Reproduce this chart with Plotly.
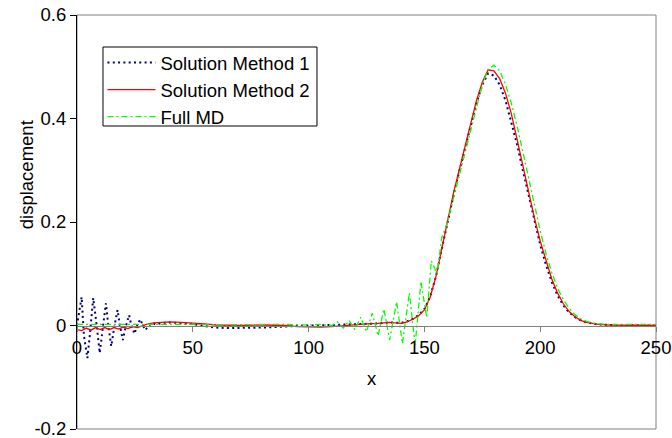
import plotly.graph_objects as go

# ---------------- data ----------------
x_m1 = [0, 1, 2, 3, 4.5, 5.5, 7, 8.5, 9.8, 11, 12.5, 13.5, 14.8, 16, 17.5, 18.5,
        19.8, 21, 22.5, 23.5, 24.8, 26, 27.3, 28.5, 29.5, 31, 32.5, 34, 36, 40,
        45, 50, 55, 60, 65, 70, 75, 80, 85, 90, 95, 100, 110, 120, 125, 130,
        135, 140, 142.5, 145, 147.5, 150, 152.5, 155, 157.5, 160, 162.5, 165,
        167.5, 170, 172.5, 175, 177.5, 180, 182.5, 185, 187.5, 190, 192.5, 195,
        197.5, 200, 202.5, 205, 207.5, 210, 212.5, 215, 217.5, 220, 222.5, 225,
        230, 240, 250]
y_m1 = [0, 0.03, 0.055, -0.02, -0.063, -0.02, 0.053, 0.0, -0.053, -0.01, 0.043,
        0.0, -0.04, -0.005, 0.03, 0.0, -0.028, -0.003, 0.02, 0.0, -0.016, 0.0,
        0.012, 0.0, -0.009, 0.0, 0.005, 0.002, 0.004, 0.006, 0.005, 0.003,
        -0.001, -0.004, -0.005, -0.005, -0.004, -0.004, -0.003, -0.002, 0.0,
        0.0, 0.001, 0.002, 0.003, 0.004, 0.006, 0.005, 0.008, 0.013, 0.02,
        0.032, 0.056, 0.095, 0.148, 0.2, 0.25, 0.297, 0.342, 0.387, 0.43,
        0.465, 0.487, 0.483, 0.465, 0.435, 0.395, 0.35, 0.3, 0.25, 0.2,
        0.156, 0.117, 0.084, 0.058, 0.039, 0.025, 0.016, 0.01, 0.006, 0.004,
        0.002, 0.001, 0.0, 0.0]

x_m2 = [0, 2, 4, 6, 8, 10, 12, 14, 16, 18, 20, 22, 24, 26, 28, 30, 33, 36, 40,
        45, 50, 55, 60, 70, 80, 90, 95, 100, 105, 110, 115, 120, 125, 130, 135,
        140, 142.5, 145, 147.5, 150, 152.5, 155, 157.5, 160, 162.5, 165, 167.5,
        170, 172.5, 175, 177.5, 180, 182.5, 185, 187.5, 190, 192.5, 195, 197.5,
        200, 202.5, 205, 207.5, 210, 212.5, 215, 217.5, 220, 222.5, 225, 230,
        240, 250]
y_m2 = [-0.008, -0.01, -0.005, -0.009, -0.004, -0.008, -0.004, -0.008, -0.004,
        -0.007, -0.003, -0.006, -0.002, -0.004, -0.001, 0.002, 0.005, 0.006,
        0.007, 0.006, 0.005, 0.003, 0.001, 0.0, 0.001, 0.0, -0.002, -0.003,
        -0.003, -0.002, 0.0, 0.002, 0.003, 0.004, 0.006, 0.004, 0.007, 0.012,
        0.019, 0.03, 0.055, 0.095, 0.15, 0.205, 0.255, 0.3, 0.345, 0.39, 0.435,
        0.47, 0.494, 0.492, 0.477, 0.449, 0.41, 0.36, 0.307, 0.257, 0.208,
        0.163, 0.124, 0.09, 0.063, 0.042, 0.027, 0.017, 0.01, 0.006, 0.004,
        0.002, 0.001, 0.0, 0.0]

x_md = [0, 10, 20, 30, 40, 50, 60, 70, 80, 90, 100, 105, 110, 112.5, 115, 117.5,
        120, 122.5, 125, 127.5, 130, 132.5, 135, 138, 140.5, 143.5, 146, 148.5,
        151, 153, 155.5, 157.5, 160, 162.5, 165, 167.5, 170, 172.5, 175, 177.5,
        180, 182.5, 185, 187.5, 190, 192.5, 195, 197.5, 200, 202.5, 205, 207.5,
        210, 212.5, 215, 217.5, 220, 222.5, 225, 230, 240, 250]
y_md = [0.002, 0.002, 0.002, 0.002, 0.003, 0.002, 0.001, 0.002, 0.002, 0.002,
        0.001, 0.002, 0.0, 0.007, -0.005, 0.01, -0.008, 0.016, -0.012, 0.024,
        -0.02, 0.032, -0.028, 0.046, -0.035, 0.063, -0.038, 0.085, 0.015,
        0.125, 0.1, 0.17, 0.2, 0.245, 0.29, 0.335, 0.38, 0.425, 0.465, 0.495,
        0.503, 0.492, 0.466, 0.43, 0.386, 0.336, 0.283, 0.233, 0.183, 0.139,
        0.102, 0.072, 0.05, 0.033, 0.021, 0.013, 0.008, 0.005, 0.003, 0.002,
        0.002, 0.002]

series_names = ["Solution Method 1", "Solution Method 2", "Full MD"]
x_tick_vals = [0, 50, 100, 150, 200, 250]
x_tick_text = ["0", "50", "100", "150", "200", "250"]
y_tick_vals = [-0.2, 0, 0.2, 0.4, 0.6]
y_tick_text = ["-0.2", "0", "0.2", "0.4", "0.6"]

FONT = "Liberation Sans, Arial, sans-serif"
FS = 18.5

fig = go.Figure()
fig.add_trace(go.Scatter(x=x_m1, y=y_m1, mode="lines", name=series_names[0],
                         line=dict(color="#000080", width=2, dash="2px,3.3px")))
fig.add_trace(go.Scatter(x=x_m2, y=y_m2, mode="lines", name=series_names[1],
                         line=dict(color="#FF0000", width=1.3)))
fig.add_trace(go.Scatter(x=x_md, y=y_md, mode="lines", name=series_names[2],
                         line=dict(color="#00FF00", width=1.3,
                                   dash="6px,3px,2px,3px")))

fig.update_layout(
    width=672, height=438,
    margin=dict(l=77, r=16, t=15, b=9, autoexpand=False),
    paper_bgcolor="white", plot_bgcolor="white",
    font=dict(family=FONT, size=FS, color="black"),
    showlegend=True,
    legend=dict(x=0.044, y=0.93, xanchor="left", yanchor="top",
                bgcolor="rgba(0,0,0,0)", borderwidth=0,
                font=dict(family=FONT, size=FS, color="black"),
                tracegroupgap=0, itemwidth=48),
    xaxis=dict(range=[0, 250], tickvals=x_tick_vals, ticktext=x_tick_text,
               showgrid=False, zeroline=False, showline=True,
               linecolor="#808080", linewidth=1, ticks="outside",
               tickcolor="#808080", ticklen=5, anchor="free", position=0.25,
               tickfont=dict(family=FONT, size=FS, color="black"),
               ticklabeloverflow="allow", automargin=False),
    yaxis=dict(range=[-0.2, 0.6], tickvals=y_tick_vals, ticktext=y_tick_text,
               showgrid=False, zeroline=False, showline=True,
               linecolor="black", linewidth=1, ticks="outside",
               tickcolor="black", ticklen=6,
               tickfont=dict(family=FONT, size=FS, color="black"),
               ticklabeloverflow="allow", automargin=False),
    shapes=[
        dict(type="rect", xref="paper", yref="paper", x0=0, x1=1, y0=0, y1=1,
             line=dict(color="#808080", width=1), layer="below"),
        # legend frame
        dict(type="rect", xref="paper", yref="paper", x0=0.0449, x1=0.4145,
             y0=0.7319, y1=0.9227, line=dict(color="black", width=1),
             fillcolor="white", layer="above"),
    ],
    annotations=[
        dict(text="displacement", xref="paper", yref="paper", x=0, y=0.613,
             xanchor="center", yanchor="middle", xshift=-51, textangle=-90,
             showarrow=False, font=dict(family=FONT, size=FS, color="black")),
        dict(text="x", xref="paper", yref="paper", x=0.509, y=0.123,
             xanchor="center", yanchor="middle", showarrow=False,
             font=dict(family=FONT, size=FS, color="black")),
    ],
)

fig.write_html("out.html",
               config={"displayModeBar": False},
               post_script="document.body.style.margin='0';")
